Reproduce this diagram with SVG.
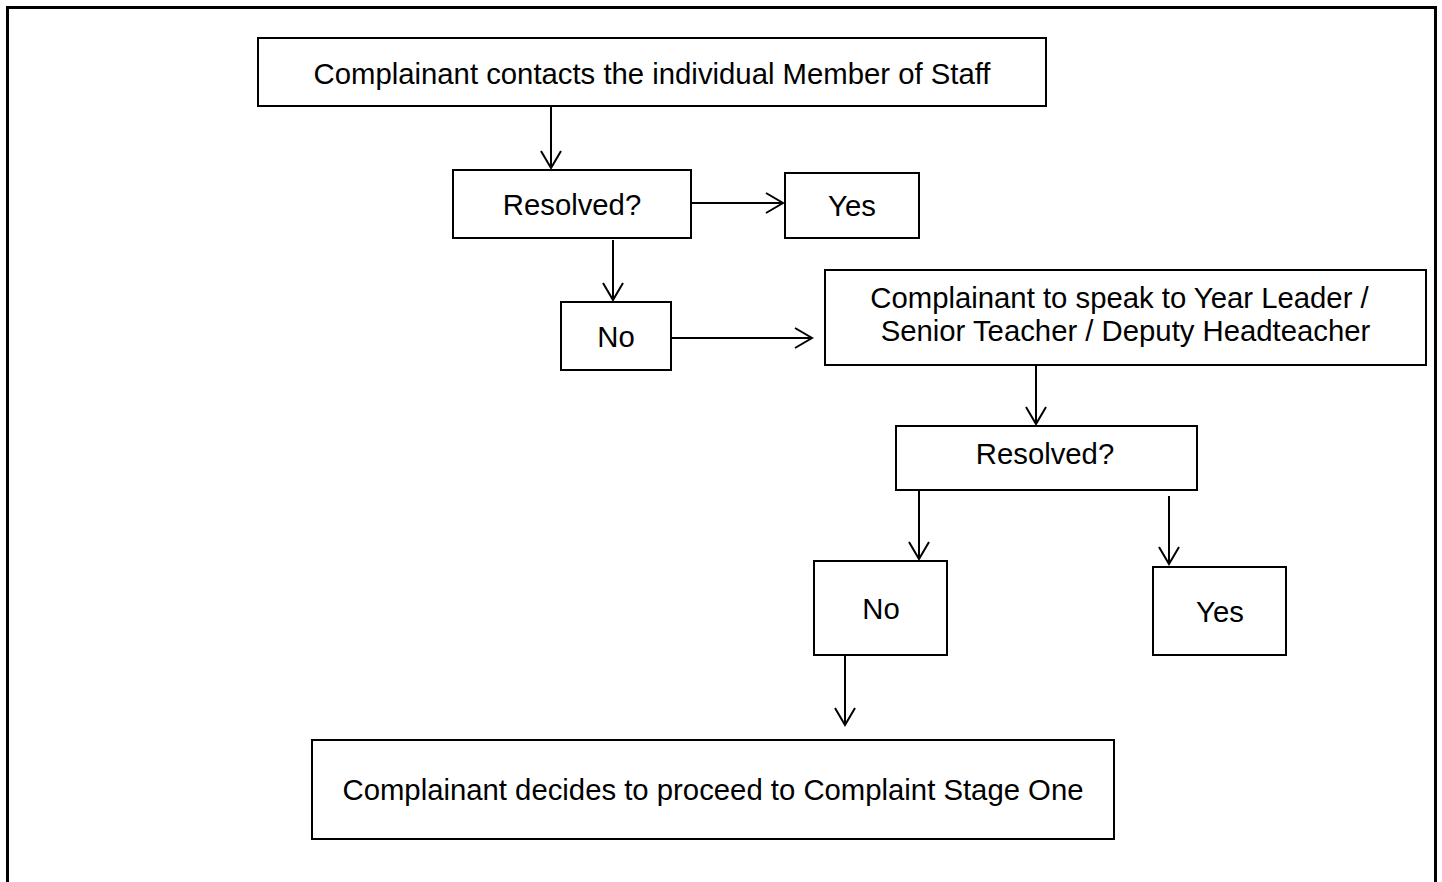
<svg xmlns="http://www.w3.org/2000/svg" width="1442" height="882" viewBox="0 0 1442 882">
<style>
.box{fill:#fff;stroke:#000;stroke-width:2}
.t{font-family:"Liberation Sans",Arial,sans-serif;font-size:29.3px;fill:#000;text-anchor:middle}
.c{fill:none;stroke:#000;stroke-width:2;marker-end:url(#ah)}
</style>
<defs>
<marker id="ah" viewBox="0 0 18 22" refX="17" refY="11" markerWidth="18" markerHeight="22" markerUnits="userSpaceOnUse" orient="auto" overflow="visible">
<path d="M0,1 L17,11 L0,21" fill="none" stroke="#000" stroke-width="2"/>
</marker>
</defs>
<rect x="0" y="0" width="1442" height="882" fill="#fff"/>
<rect x="7.5" y="7.5" width="1428" height="900" fill="none" stroke="#000" stroke-width="3"/>
<g id="connectors">
<path class="c" d="M551,107 V168"/>
<path class="c" d="M692,203 H783"/>
<path class="c" d="M613,240 V300"/>
<path class="c" d="M672,338 H812"/>
<path class="c" d="M1036,366 V424"/>
<path class="c" d="M919,491 V559"/>
<path class="c" d="M1169,496 V564"/>
<path class="c" d="M845,656 V725"/>
</g>
<g id="n1"><rect class="box" x="258" y="38" width="788" height="68"/><text class="t" x="652" y="84">Complainant contacts the individual Member of Staff</text></g>
<g id="n2"><rect class="box" x="453" y="170" width="238" height="68"/><text class="t" x="572" y="215">Resolved?</text></g>
<g id="n3"><rect class="box" x="785" y="173" width="134" height="65"/><text class="t" x="852" y="216">Yes</text></g>
<g id="n4"><rect class="box" x="561" y="302" width="110" height="68"/><text class="t" x="616" y="347">No</text></g>
<g id="n5"><rect class="box" x="825" y="270" width="601" height="95"/><text class="t" x="1119.5" y="308">Complainant to speak to Year Leader /</text><text class="t" x="1125.5" y="341">Senior Teacher / Deputy Headteacher</text></g>
<g id="n6"><rect class="box" x="896" y="426" width="301" height="64"/><text class="t" x="1045" y="464">Resolved?</text></g>
<g id="n7"><rect class="box" x="814" y="561" width="133" height="94"/><text class="t" x="881" y="619">No</text></g>
<g id="n8"><rect class="box" x="1153" y="567" width="133" height="88"/><text class="t" x="1220" y="622">Yes</text></g>
<g id="n9"><rect class="box" x="312" y="740" width="802" height="99"/><text class="t" x="713" y="800">Complainant decides to proceed to Complaint Stage One</text></g>
</svg>
